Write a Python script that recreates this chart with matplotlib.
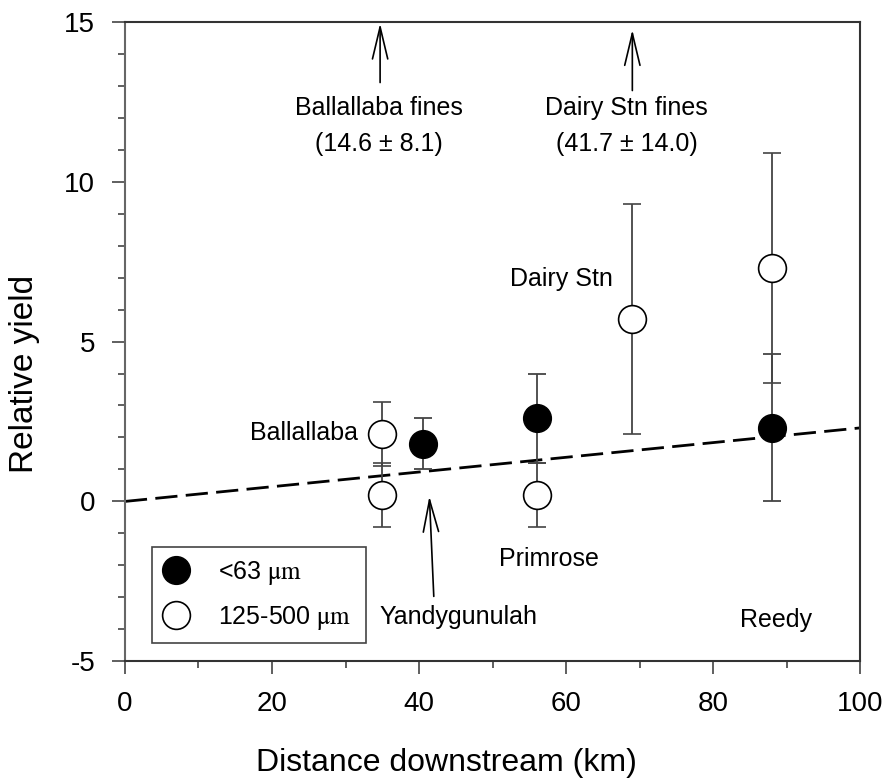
import matplotlib.pyplot as plt
import numpy as np
from matplotlib.ticker import MultipleLocator
from matplotlib.lines import Line2D

plt.rcParams['font.family'] = ['Liberation Sans', 'DejaVu Sans']
plt.rcParams['mathtext.fontset'] = 'stix'
plt.rcParams['axes.unicode_minus'] = False

# <63 um fraction
fine_x = [40.5, 56, 88]
fine_y = [1.8, 2.6, 2.3]
fine_err = [0.8, 1.4, 2.3]

# 125-500 um fraction
coarse_x = [35, 35, 56, 69, 88]
coarse_y = [2.1, 0.2, 0.2, 5.7, 7.3]
coarse_err = [1.0, 1.0, 1.0, 3.6, 3.6]

trend_x = [0, 100]
trend_y = [0, 2.3]

site_names = ['Ballallaba', 'Dairy Stn', 'Primrose', 'Yandygunulah', 'Reedy']
site_pos = [(24.4, 2.15), (59.4, 6.95), (57.7, -1.8), (45.3, -3.6), (88.6, -3.7)]

fines_labels = ['Ballallaba fines\n(14.6 ± 8.1)', 'Dairy Stn fines\n(41.7 ± 14.0)']
fines_pos = [(34.6, 11.75), (68.2, 11.75)]

fig = plt.figure(figsize=(8.86, 7.78), dpi=100)
ax = fig.add_axes([0.141, 0.150, 0.830, 0.822])

# trend line
ln, = ax.plot(trend_x, trend_y, color='black', lw=2, zorder=2)
ln.set_dashes([8, 3])

ax.errorbar(coarse_x, coarse_y, yerr=coarse_err, fmt='o', ms=20, mfc='white',
            mec='black', mew=1.2, ecolor='#444444', elinewidth=1.3, capsize=6.5,
            capthick=1.3, zorder=3)
ax.errorbar(fine_x, fine_y, yerr=fine_err, fmt='o', ms=20, mfc='black',
            mec='black', ecolor='#444444', elinewidth=1.3, capsize=6.5,
            capthick=1.3, zorder=4)

# site labels
for name, (x, y) in zip(site_names, site_pos):
    ax.text(x, y, name, fontsize=18, ha='center', va='center')

for lab, (x, y) in zip(fines_labels, fines_pos):
    ax.text(x, y, lab, fontsize=18, ha='center', va='center', linespacing=1.65)

arrow_kw = dict(arrowstyle='->,head_length=2.3,head_width=0.55', color='black', lw=1.2,
                shrinkA=0, shrinkB=0, mutation_scale=10)
ax.annotate('', xy=(34.7, 14.95), xytext=(34.7, 13.1), arrowprops=arrow_kw)
ax.annotate('', xy=(69.0, 14.75), xytext=(69.0, 12.85), arrowprops=arrow_kw)
ax.annotate('', xy=(41.4, 0.16), xytext=(42.0, -2.97), arrowprops=arrow_kw)

ax.set_xlim(0, 100)
ax.set_ylim(-5, 15)
ax.xaxis.set_major_locator(MultipleLocator(20))
ax.xaxis.set_minor_locator(MultipleLocator(10))
ax.yaxis.set_major_locator(MultipleLocator(5))
ax.yaxis.set_minor_locator(MultipleLocator(1))
ax.tick_params(which='major', direction='out', length=9.5, width=1.2, labelsize=20,
               color='#444444', pad=12)
ax.tick_params(which='minor', direction='out', length=5, width=1.2, color='#444444')
for s in ax.spines.values():
    s.set_color('#333333')
    s.set_linewidth(1.5)
ax.spines['left'].set_color('#666666')

ax.set_xlabel('Distance downstream (km)', fontsize=23)
ax.xaxis.set_label_coords(0.437, -0.135)
ax.set_ylabel('Relative yield', fontsize=24)
ax.yaxis.set_label_coords(-0.115, 0.449)

handles = [Line2D([], [], ls='none', marker='o', ms=20, mfc='black', mec='black'),
           Line2D([], [], ls='none', marker='o', ms=20, mfc='white', mec='black', mew=1.2)]
labels = ['<63 $\\mathrm{\\mu m}$', '125-500 $\\mathrm{\\mu m}$']
leg = ax.legend(handles, labels, loc='lower left', bbox_to_anchor=(0.037, 0.028, 0.291, 0.149),
                mode='expand', borderaxespad=0, fontsize=18, fancybox=False,
                edgecolor='#444444', handlelength=1.0, handletextpad=1.2,
                labelspacing=0.7, borderpad=0.45, framealpha=1)
leg.get_frame().set_linewidth(1.2)

fig.savefig('out.png', dpi=100)
